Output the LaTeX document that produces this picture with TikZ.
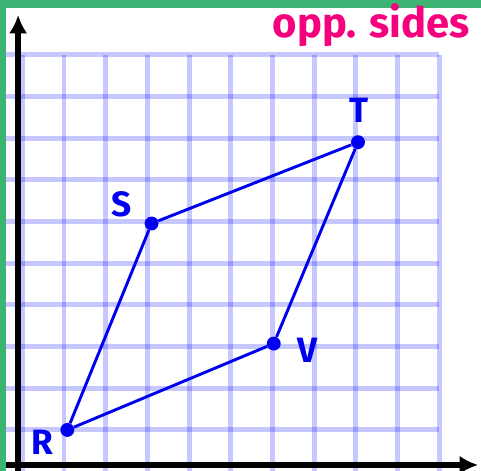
\documentclass[tikz,border=0pt]{standalone}
\usepackage{fontspec}
\setmainfont{Fira Sans}
\usetikzlibrary{arrows.meta}
\definecolor{penblue}{RGB}{0,0,240}
\definecolor{markpink}{RGB}{245,0,125}
\definecolor{framegreen}{RGB}{60,180,115}

\begin{document}
\begin{tikzpicture}[
    gridline/.style={blue, opacity=0.22, line width=3.4pt},
    axisline/.style={line width=4.5pt, -{Latex[length=4.4mm,width=4.4mm]}},
    side/.style={penblue, line width=2pt},
    vertex/.style={circle, fill=penblue, inner sep=0pt, minimum size=9.5pt},
    vlabel/.style={penblue, font=\fontsize{24}{24}\selectfont\bfseries},
]
    \useasboundingbox (-1.535,-0.983) rectangle (10.0,10.31);

    % --- Graph paper ---
    \foreach \x in {-1,0,...,9}{
        \draw[gridline] (\x,-0.983) -- (\x,9.0);
    }
    \foreach \y in {0,1,...,9}{
        \draw[gridline] (-1.39,\y) -- (9.0,\y);
    }

    % --- Axes ---
    \coordinate (ybot) at (-1.10,-0.983);
    \coordinate (ytop) at (-1.10,9.95);
    \coordinate (xleft) at (-1.39,-0.84);
    \coordinate (xright) at (9.93,-0.84);
    \draw[axisline] (ybot) -- (ytop);
    \draw[axisline] (xleft) -- (xright);

    % --- Parallelogram RSTV ---
    \node[vertex] (R) at (0.08,0) {};
    \node[vertex] (S) at (2.1,4.95) {};
    \node[vertex] (T) at (7.05,6.9) {};
    \node[vertex] (V) at (5.03,2.07) {};
    \draw[side] (R) -- (S) -- (T) -- (V) -- (R);

    % Vertex labels
    \node[vlabel] (labR) at (-0.53,-0.29) {R};
    \node[vlabel] (labS) at (1.39,5.40) {S};
    \node[vlabel] (labT) at (7.07,7.67) {T};
    \node[vlabel] (labV) at (5.83,1.92) {V};

    % --- Frame and note ---
    \fill[framegreen] (-1.535,10.12) rectangle (10.0,10.31);
    \fill[framegreen] (-1.535,-0.983) rectangle (-1.39,10.31);
    \node[markpink, anchor=base west, inner sep=0pt,
          font=\fontsize{28.5}{28.5}\selectfont\bfseries] (note) at (5.0,9.42) {opp. sides};
\end{tikzpicture}
\end{document}
